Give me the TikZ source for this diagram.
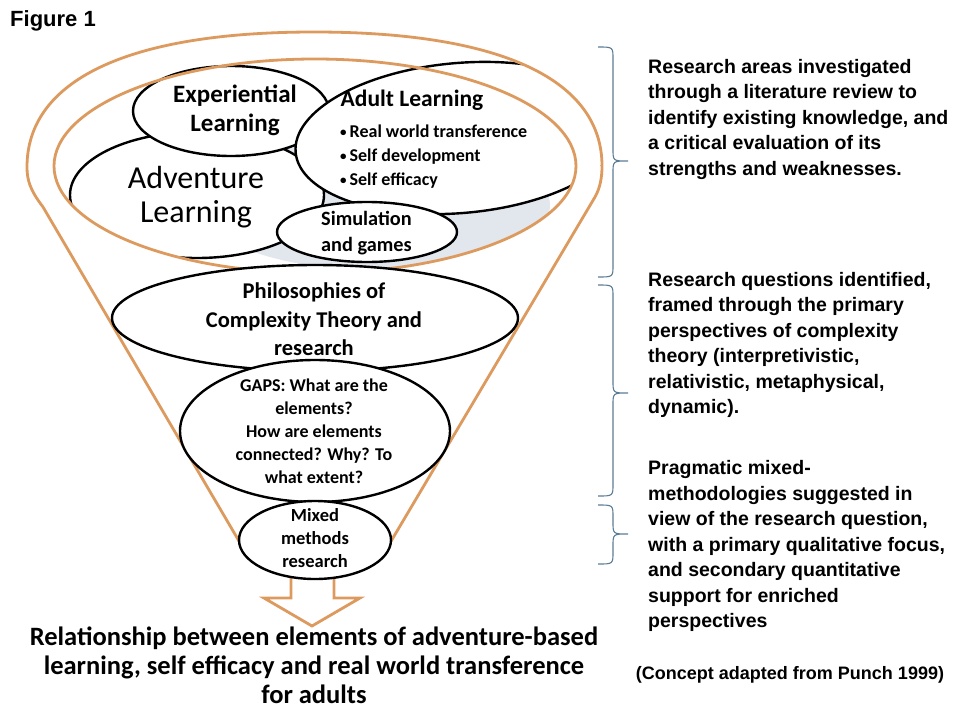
\documentclass[tikz,border=0pt]{standalone}
\usepackage{fontspec}
\setmainfont{Carlito}
\newfontfamily\arialf{Liberation Sans}
\usetikzlibrary{shapes.geometric}
\definecolor{rimc}{HTML}{DD9A5E}
\definecolor{shadec}{HTML}{E2E6ED}
\definecolor{bracec}{HTML}{5B7C95}
\tikzset{
  oval/.style={ellipse, draw=black, line width=2.4pt, fill=white, inner sep=0pt},
  ovaltxt/.style={font=\bfseries, align=center, inner sep=0pt},
  rimln/.style={draw=rimc, line width=2.8pt},
  notetxt/.style={font=\arialf\bfseries\fontsize{19.5}{25.5}\selectfont, align=left, anchor=west, inner sep=0pt},
  bracel/.style={draw=bracec, line width=1.1pt},
}
\newcommand{\fsz}[2]{\fontsize{#1}{#2}\selectfont}
\newcommand{\dotitem}{\raisebox{1.2pt}{\fsz{13}{13}\textbullet}\,}
\newcommand{\rimpath}{(43,207) .. controls (30,190) and (27,180) .. (27,167)
  .. controls (27,82) and (124,32) .. (314,32)
  .. controls (504,32) and (602,81) .. (602,166)
  .. controls (602,178) and (600,188) .. (595,197)}
\newcommand{\innerrim}{(315,166) ellipse [x radius=261pt, y radius=107pt]}
\newcommand{\sidebrace}[3]{%
  \draw[bracel] (598,#1) .. controls (613,#1) .. (613,#1+12) -- (613,#2-12)
    .. controls (613,#2) .. (628,#2) .. controls (613,#2) .. (613,#2+12)
    -- (613,#3-12) .. controls (613,#3) .. (598,#3);}

\begin{document}
\begin{tikzpicture}[x=1pt,y=-1pt]
  \fill[white] (0,0) rectangle (960,720);
  \node[font=\arialf\bfseries\fsz{22}{26}, inner sep=0pt] (fig) at (53,21) {Figure 1};
  % back of the rim and the areas inside it
  \begin{scope}
    \clip \rimpath -- (387,548) -- (246,553) -- cycle;
    \begin{scope}
      \clip \innerrim;
      \fill[shadec] (375,205) ellipse [x radius=175pt, y radius=65pt];
    \end{scope}
    \node[oval, minimum width=254pt, minimum height=126pt] (adv) at (197,195) {};
    \node[oval, minimum width=196pt, minimum height=90pt] (exp) at (231,111) {};
    \node[oval, minimum width=330pt, minimum height=150pt, rotate=5] (adult) at (460,138) {};
    \node[oval, minimum width=180pt, minimum height=60pt] (sim) at (367,232) {};
  \end{scope}
  \node[ovaltxt, font=\fsz{32}{34}] (advT) at (196,197) {Adventure\\Learning};
  \node[ovaltxt, font=\bfseries\fsz{25}{29}] (expT) at (235,110.5) {Experiential\\Learning};
  \node[ovaltxt, font=\bfseries\fsz{23.5}{27}] (adultT) at (412,100) {Adult Learning};
  \node[ovaltxt, font=\bfseries\fsz{18}{24}, align=left, anchor=west] (adultL) at (340,157)
    {\dotitem Real world transference\\\dotitem Self development\\\dotitem Self efficacy};
  \node[ovaltxt, font=\bfseries\fsz{20.3}{26}, align=left, anchor=west] (simT) at (321,233) {Simulation\\and games};
  % front of the rim
  \begin{scope}
    \clip (0,166) rectangle (960,720);
    \fill[white, even odd rule] \rimpath -- (387,548) -- (246,553) -- cycle \innerrim;
  \end{scope}
  \draw[rimln] \innerrim;
  \draw[rimln] (246,553) -- \rimpath -- (387,548);
  \node[oval, minimum width=406pt, minimum height=106pt] (phil) at (315,318) {};
  \node[oval, minimum width=270pt, minimum height=142pt] (gaps) at (315,431) {};
  \draw[rimln, fill=white] (291,560) -- (291,598) -- (264,598) -- (312,626) -- (360,598) -- (334,598) -- (334,560);
  \node[oval, minimum width=152pt, minimum height=78pt] (mixed) at (315,540) {};
  \node[ovaltxt, font=\bfseries\fsz{22.5}{28.5}] (philT) at (314,319.5) {Philosophies of\\Complexity Theory and\\research};
  \node[ovaltxt, font=\bfseries\fsz{18}{23}] (gapsT) at (314,431.5) {GAPS: What are the\\elements?\\How are elements\\connected? Why? To\\what extent?};
  \node[ovaltxt, font=\bfseries\fsz{18.5}{23}] (mixT) at (315,538) {Mixed\\methods\\research};
  \node[ovaltxt, font=\bfseries\fsz{26.5}{29}] (result) at (314,665) {Relationship between elements of adventure-based\\learning, self efficacy and real world transference\\for adults};
  % notes on the right
  \node[notetxt] (areas) at (648,119) {Research areas investigated\\through a literature review to\\identify existing knowledge, and\\a critical evaluation of its\\strengths and weaknesses.};
  \node[notetxt] (quest) at (648,345) {Research questions identified,\\framed through the primary\\perspectives of complexity\\theory (interpretivistic,\\relativistic, metaphysical,\\dynamic).};
  \node[notetxt] (method) at (648,546) {Pragmatic mixed-\\methodologies suggested in\\view of the research question,\\with a primary qualitative focus,\\and secondary quantitative\\support for enriched\\perspectives};
  \node[font=\arialf\bfseries\fsz{18}{22}, inner sep=0pt] (source) at (790,675) {(Concept adapted from Punch 1999)};
  \sidebrace{47}{161}{277}
  \sidebrace{285}{393}{496}
  \sidebrace{505}{534}{564}
\end{tikzpicture}
\end{document}
